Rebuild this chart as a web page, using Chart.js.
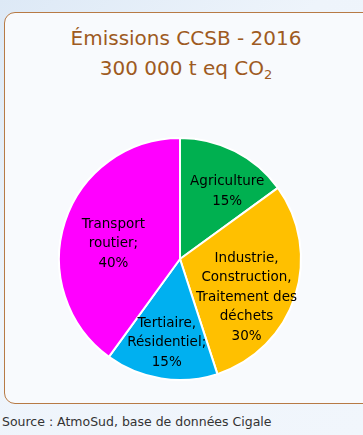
<!DOCTYPE html>
<html><head><meta charset="utf-8">
<script src="https://cdn.jsdelivr.net/npm/chart.js@4/dist/chart.umd.min.js"></script>
<style>
html,body{margin:0;padding:0;width:363px;height:435px;overflow:hidden;background:linear-gradient(135deg,#dde9f6 0%,#eef4fb 40%,#f1f6fc 100%);font-family:"DejaVu Sans",sans-serif;}
#box{position:absolute;left:4px;top:12px;width:370px;height:392px;border:1.5px solid #b77a45;border-radius:11px;background:#f8fafd;box-sizing:border-box;}
#t1,#t2{position:absolute;left:0;width:372px;text-align:center;color:#9e5a22;font-size:20px;}
#t1{top:26px;}
#t2{top:56px;}
#t2 sub{font-size:13px;vertical-align:-4px;line-height:0;}
#src{position:absolute;left:2px;top:414px;font-size:12.5px;color:#333;}
canvas{position:absolute;left:0;top:0;}
</style></head><body>
<div id="box"></div>
<div id="t1">Émissions CCSB - 2016</div>
<div id="t2">300 000 t eq CO<sub>2</sub></div>
<div id="src">Source : AtmoSud, base de données Cigale</div>
<canvas id="c" width="363" height="435"></canvas>
<script>
const categories = ["Agriculture", "Industrie, Construction, Traitement des déchets", "Tertiaire, Résidentiel", "Transport routier"];
const values = [15, 30, 15, 40];
const labelLines = [
  ["Agriculture", "15%"],
  ["Industrie,", "Construction,", "Traitement des", "déchets", "30%"],
  ["Tertiaire,", "Résidentiel;", "15%"],
  ["Transport", "routier;", "40%"]
];
const colors = ["#00B050", "#FFC000", "#00B0F0", "#FF00FF"];
const labelPos = [ {f:0.68, a:8}, {f:0.635, a:12}, {f:0.70, a:0}, {f:0.565, a:-5} ];

const labelPlugin = {
  id: 'sliceLabels',
  afterDatasetsDraw(chart) {
    const ctx = chart.ctx;
    const meta = chart.getDatasetMeta(0);
    ctx.save();
    ctx.font = '13.5px "DejaVu Sans", sans-serif';
    ctx.fillStyle = '#000';
    ctx.textAlign = 'center';
    ctx.textBaseline = 'middle';
    meta.data.forEach((arc, i) => {
      const p = arc.getProps(['x','y','startAngle','endAngle','outerRadius'], true);
      const mid = (p.startAngle + p.endAngle) / 2 + labelPos[i].a * Math.PI / 180;
      const r = p.outerRadius * labelPos[i].f;
      const cx = p.x + Math.cos(mid) * r;
      const cy = p.y + Math.sin(mid) * r;
      const lines = labelLines[i];
      const lh = 19.5;
      lines.forEach((t, k) => {
        ctx.fillText(t, cx, cy + (k - (lines.length - 1) / 2) * lh);
      });
    });
    ctx.restore();
  }
};

new Chart(document.getElementById('c'), {
  type: 'pie',
  data: {
    labels: categories,
    datasets: [{ data: values, backgroundColor: colors, borderColor: '#ffffff', borderWidth: 2 }]
  },
  options: {
    responsive: false,
    animation: false,
    layout: { padding: { left: 58, right: 61, top: 137, bottom: 54 } },
    plugins: { legend: { display: false }, tooltip: { enabled: false } }
  },
  plugins: [labelPlugin]
});
</script>
</body></html>
